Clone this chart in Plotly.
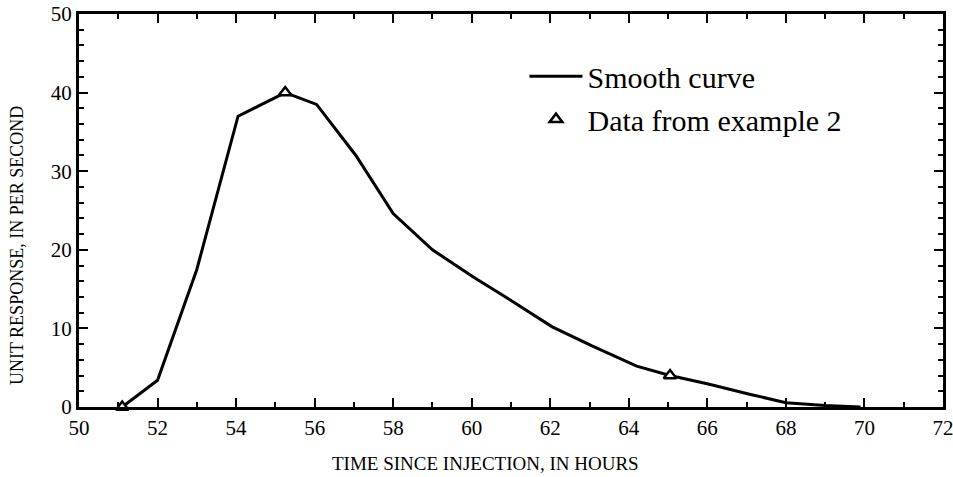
import plotly.graph_objects as go

# Smooth curve
curve_t = [51.1, 52.0, 53.0, 54.05, 55.25, 56.05, 57.05, 58.0, 59.0, 60.05, 61.05, 62.05, 63.05, 64.2, 65.05, 66.05, 67.1, 68.0, 69.0, 69.9]
curve_u = [0.0, 3.4, 17.5, 37.0, 40.0, 38.5, 32.0, 24.6, 20.0, 16.5, 13.4, 10.2, 7.8, 5.2, 4.0, 2.9, 1.6, 0.55, 0.2, 0.0]

# Data from example 2
data_t = [51.1, 55.25, 65.05]
data_u = [0.0, 40.0, 4.0]

x_title = "TIME SINCE INJECTION, IN HOURS"
y_title = "UNIT RESPONSE, IN PER SECOND"

FONT = "Liberation Serif, Times New Roman, serif"

fig = go.Figure()
fig.add_trace(go.Scatter(
    x=curve_t, y=curve_u, mode="lines", name="Smooth curve",
    line=dict(color="black", width=3), legendgroup="a", cliponaxis=False))
fig.add_trace(go.Scatter(
    x=data_t, y=data_u, mode="markers", name="Data from example 2",
    marker=dict(symbol="triangle-up", size=11, color="white",
                line=dict(color="black", width=2.5)),
    legendgroup="b", cliponaxis=False))

axis_common = dict(
    showgrid=False, zeroline=False, showline=True, linecolor="black", linewidth=3,
    mirror="ticks", ticks="inside", tickcolor="black", tickwidth=2, ticklen=9,
    tickfont=dict(family=FONT, size=21, color="black"),
    automargin=False, ticklabeloverflow="allow",
)

fig.update_layout(
    width=953, height=477,
    margin=dict(l=79, r=10, t=14, b=70),
    paper_bgcolor="white", plot_bgcolor="white",
    font=dict(family=FONT, color="black"),
    xaxis=dict(range=[50, 72], dtick=2, tick0=50,
               minor=dict(ticks="inside", dtick=1, ticklen=5, tickwidth=2, tickcolor="black"),
               **axis_common),
    yaxis=dict(range=[0, 50], dtick=10, tick0=0,
               minor=dict(ticks="inside", dtick=2, ticklen=5, tickwidth=2, tickcolor="black"),
               **axis_common),
    legend=dict(x=0.5156, y=0.908, xanchor="left", yanchor="top",
                bgcolor="rgba(0,0,0,0)", font=dict(family=FONT, size=30, color="black"),
                tracegroupgap=1, itemwidth=53),
    showlegend=True,
    annotations=[
        dict(text=x_title, xref="paper", yref="paper", x=0.47, y=-0.1425,
             xanchor="center", yanchor="middle", showarrow=False,
             font=dict(family=FONT, size=19, color="black")),
        dict(text=y_title, xref="paper", yref="paper", x=-0.0718, y=0.412,
             xanchor="center", yanchor="middle", showarrow=False, textangle=-90,
             font=dict(family=FONT, size=18, color="black")),
    ],
)

# remove the default 8px page margin so the figure fills the 953x477 window
fig.write_html("out.html", config={"displayModeBar": False},
               post_script="document.body.style.margin='0';")
